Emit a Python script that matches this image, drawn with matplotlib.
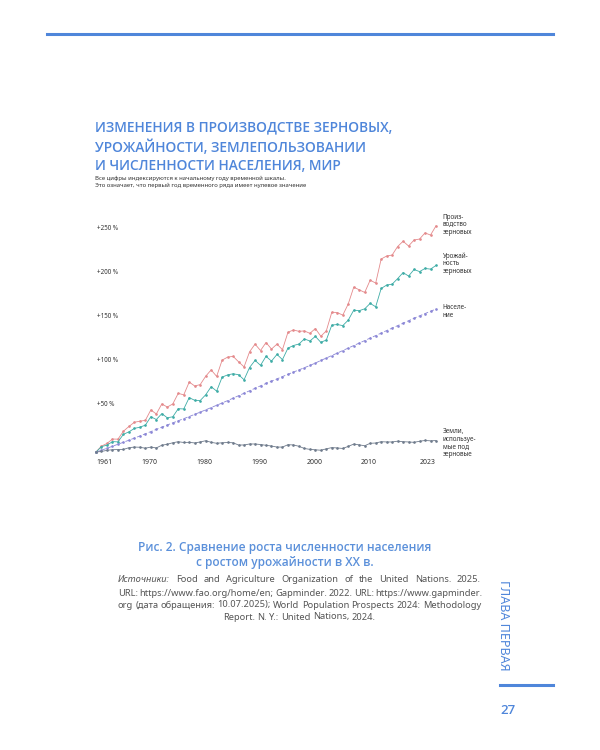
import matplotlib.pyplot as plt
from matplotlib.lines import Line2D

plt.rcParams['font.family'] = ['Noto Sans', 'DejaVu Sans']

years = list(range(1961, 2024))

# index vs 1961, %
production = [0, 6.7, 9.7, 14.7, 14.6, 23.6, 29.0, 33.8, 35.0, 36.0,
              47.8, 43.2, 54.6, 51.1, 54.6, 66.7, 64.9, 79.5, 75.0, 76.6,
              86.1, 93.3, 85.9, 104.4, 107.8, 108.7, 102.5, 96.7, 113.8, 122.6,
              115.3, 124.4, 117.0, 122.6, 116.3, 136.0, 138.7, 137.1, 137.6, 134.8,
              140.3, 131.5, 137.7, 158.8, 158.5, 155.5, 168.3, 187.3, 184.3, 181.3,
              195.3, 191.9, 219.3, 222.7, 223.8, 233.5, 239.5, 234.1, 240.9, 242.0,
              249.0, 246.5, 257.0]
yields = [0, 6.1, 7.8, 11.8, 11.5, 20.1, 22.9, 26.8, 28.2, 30.5,
          40.1, 36.9, 43.6, 38.9, 40.0, 49.2, 48.9, 61.8, 58.7, 58.5,
          65.0, 74.2, 69.2, 85.1, 87.6, 88.9, 87.8, 82.1, 96.0, 104.1,
          98.5, 108.7, 103.3, 110.9, 105.0, 118.0, 121.0, 122.7, 128.5, 126.1,
          131.4, 124.6, 127.3, 144.2, 144.9, 143.6, 149.9, 161.2, 160.6, 162.7,
          168.9, 165.0, 185.8, 189.7, 190.7, 197.0, 203.9, 199.9, 207.4, 205.0,
          208.6, 207.8, 212.0]
population = [0, 2.0, 4.2, 6.5, 8.8, 11.1, 13.4, 15.8, 18.2, 20.7,
              23.2, 25.7, 28.2, 30.7, 33.1, 35.5, 37.9, 40.3, 42.8, 45.3,
              47.9, 50.5, 53.1, 55.7, 58.4, 61.2, 64.0, 66.8, 69.6, 72.4,
              75.2, 77.9, 80.5, 83.1, 85.7, 88.3, 90.8, 93.3, 95.8, 98.3,
              101.1, 104.0, 106.8, 109.6, 112.4, 115.3, 118.1, 121.0, 123.8, 126.6,
              129.5, 132.3, 135.1, 138.0, 140.8, 143.6, 146.4, 149.2, 152.0, 154.7,
              157.3, 159.9, 162.5]
land = [0, 0.6, 1.9, 2.6, 2.8, 2.9, 4.9, 5.6, 5.4, 4.3,
        5.6, 4.6, 7.7, 8.8, 10.5, 11.7, 10.8, 11.0, 10.3, 11.4,
        12.8, 11.0, 9.9, 10.5, 10.8, 10.5, 7.9, 8.0, 9.1, 9.1,
        8.5, 7.6, 6.8, 5.6, 5.6, 8.3, 8.0, 6.5, 4.0, 3.0,
        2.5, 2.0, 3.6, 5.0, 4.6, 4.0, 6.4, 9.0, 8.1, 7.1,
        9.9, 10.2, 11.7, 11.4, 11.4, 12.3, 11.7, 11.4, 11.0, 12.2,
        13.1, 12.7, 13.0]

y_ticks = [50, 100, 150, 200, 250]
x_ticks = [1961, 1970, 1980, 1990, 2000, 2010, 2023]

series_labels = ['Произ-\nводство\nзерновых', 'Урожай-\nность\nзерновых',
                 'Населе-\nние', 'Земли,\nиспользуе-\nмые под\nзерновые']

source_lines = ['Food and Agriculture Organization of the United Nations. 2025.',
                'URL: https://www.fao.org/home/en; Gapminder. 2022. URL: https://www.gapminder.',
                'org (дата обращения: 10.07.2025); World Population Prospects 2024: Methodology',
                'Report. N. Y.: United Nations, 2024.']

BLUE = '#4f86da'
DARK = '#333333'
GREY = '#555555'
HEAD = ['Open Sans', 'DejaVu Sans']

fig = plt.figure(figsize=(6, 7.5), dpi=100)

def fx(x):
    return x / 600

def fy(y):
    return 1 - y / 750

# top rule
fig.add_artist(Line2D([fx(47), fx(553)], [fy(34), fy(34)], color=BLUE, lw=2.2))

fig.text(fx(95), fy(120), 'ИЗМЕНЕНИЯ В ПРОИЗВОДСТВЕ ЗЕРНОВЫХ,\nУРОЖАЙНОСТИ, ЗЕМЛЕПОЛЬЗОВАНИИ\nИ ЧИСЛЕННОСТИ НАСЕЛЕНИЯ, МИР',
         color=BLUE, fontsize=9.9, fontweight='semibold', family=HEAD, va='top', ha='left',
         linespacing=1.42)
fig.text(fx(95), fy(176), 'Все цифры индексируются к начальному году временной шкалы.\n'
         'Это означает, что первый год временного ряда имеет нулевое значение',
         color=DARK, fontsize=4.3, va='top', ha='left', linespacing=1.3)

ax = fig.add_axes([fx(96), fy(452), fx(436) - fx(96), fy(232) - fy(452)])
ax.set_xlim(1961, 2023)
ax.set_ylim(0, 250)
ax.axis('off')

style = dict(lw=0.6, marker='o', markersize=0.9, clip_on=False)
ax.plot(years, production, color='#e48a8c', **style)
ax.plot(years, yields, color='#3eaca6', **style)
ax.plot(years, population, color='#8b87d6', ls=(0, (5, 2.5)), **style)
ax.plot(years, land, color='#6f7b8c', **style)

for v in y_ticks:
    ax.text(1961.2, v + 4.5, '+%d %%' % v, fontsize=4.5, color=DARK, va='center', ha='left')

for yr in x_ticks:
    if yr == 1961:
        ha, xx = 'left', yr
    elif yr == 2023:
        ha, xx = 'right', yr
    else:
        ha, xx = 'center', yr + 0.8
    ax.text(xx, -12, str(yr), fontsize=5, color=DARK, ha=ha, va='center')

label_y = [258, 214, 160, 10]
for txt, ly in zip(series_labels, label_y):
    ax.text(2024.2, ly, txt, fontsize=4.6, color=DARK, ha='left', va='center', linespacing=1.15)

fig.text(fx(285), fy(555), 'Рис. 2. Сравнение роста численности населения\nс ростом урожайности в XX в.',
         color='#5b90da', fontsize=8.6, fontweight='semibold', family=HEAD,
         ha='center', va='center', linespacing=1.2)

# sources: justified block, first word italic
fig.canvas.draw()
r = fig.canvas.get_renderer()
FS = 6.7
LEFT, RIGHT = 118, 481
line_y = [580, 593, 605, 617]

for i, (line, ly) in enumerate(zip(source_lines, line_y)):
    words = line.split(' ')
    arts = []
    if i == 0:
        arts.append(fig.text(0, 0, 'Источники:', fontsize=FS, color=GREY, style='italic', va='center'))
    for w in words:
        arts.append(fig.text(0, 0, w, fontsize=FS, color=GREY, va='center'))
    ws = [a.get_window_extent(r).width for a in arts]
    if i < 3:
        gap = max((RIGHT - LEFT - sum(ws)) / (len(arts) - 1), 1.5)
        x = LEFT
    else:
        gap = 2.2
        x = 299 - (sum(ws) + gap * (len(arts) - 1)) / 2
    for a, wd in zip(arts, ws):
        a.set_position((fx(x), fy(ly)))
        x += wd + gap

fig.text(fx(503), fy(625), 'ГЛАВА ПЕРВАЯ', rotation=-90, color=BLUE, fontsize=9,
         ha='center', va='center')
fig.add_artist(Line2D([fx(500), fx(553)], [fy(685), fy(685)], color=BLUE, lw=2.2))
fig.text(fx(500), fy(710), '27', color=BLUE, fontsize=9.5, fontweight='semibold', family=HEAD,
         ha='left', va='center')

fig.savefig('out.png', dpi=100)
